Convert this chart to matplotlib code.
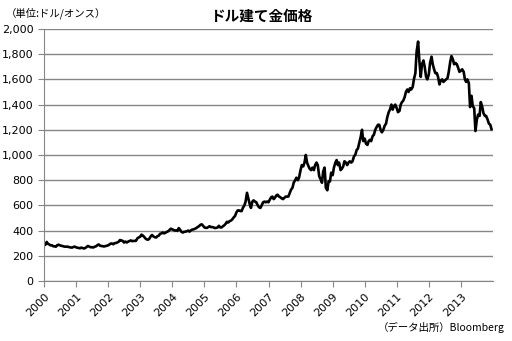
import numpy as np
import pandas as pd
import matplotlib.pyplot as plt
from matplotlib.ticker import FuncFormatter

plt.rcParams['font.family'] = ['Noto Sans CJK JP', 'DejaVu Sans']

# 金価格(ドル/オンス) 半月ごと、1年24点
prices_by_year = {
    2000: [285, 287, 310, 295, 290, 283, 283, 276, 275, 272, 285, 288,
           283, 280, 276, 274, 272, 273, 272, 268, 266, 265, 270, 273],
    2001: [267, 264, 262, 260, 265, 262, 258, 262, 270, 278, 272, 268,
           268, 266, 272, 275, 285, 290, 280, 278, 275, 274, 277, 279],
    2002: [283, 290, 298, 296, 292, 300, 302, 306, 312, 325, 322, 318,
           305, 313, 306, 312, 318, 322, 316, 318, 318, 320, 340, 345],
    2003: [352, 368, 360, 350, 338, 330, 328, 336, 355, 365, 353, 348,
           345, 355, 360, 375, 378, 385, 378, 383, 390, 395, 405, 415],
    2004: [410, 405, 400, 402, 398, 420, 405, 390, 385, 390, 392, 395,
           400, 392, 402, 408, 410, 415, 420, 428, 435, 445, 450, 440],
    2005: [425, 422, 422, 428, 435, 428, 428, 425, 420, 422, 425, 438,
           425, 425, 435, 442, 455, 470, 465, 475, 480, 490, 505, 515],
    2006: [545, 560, 560, 555, 555, 580, 600, 630, 700, 660, 610, 580,
           630, 640, 630, 625, 600, 585, 580, 600, 625, 630, 625, 630],
    2007: [625, 645, 665, 670, 650, 660, 680, 685, 670, 665, 655, 650,
           660, 670, 670, 670, 700, 725, 740, 780, 800, 820, 800, 820],
    2008: [880, 920, 910, 940, 1000, 940, 910, 890, 880, 900, 880, 920,
           940, 920, 830, 810, 780, 870, 900, 740, 720, 790, 790, 860],
    2009: [840, 900, 940, 960, 920, 940, 880, 890, 910, 950, 940, 920,
           940, 950, 940, 950, 990, 1000, 1040, 1050, 1100, 1140, 1200, 1110],
    2010: [1130, 1090, 1080, 1110, 1120, 1110, 1150, 1160, 1200, 1220, 1240, 1240,
           1200, 1180, 1200, 1230, 1250, 1300, 1340, 1360, 1400, 1360, 1390, 1400],
    2011: [1370, 1340, 1350, 1400, 1420, 1430, 1460, 1500, 1520, 1500, 1530, 1520,
           1540, 1600, 1650, 1820, 1900, 1750, 1620, 1720, 1750, 1700, 1620, 1600],
    2012: [1640, 1730, 1780, 1720, 1680, 1650, 1650, 1620, 1560, 1590, 1600, 1580,
           1590, 1600, 1610, 1660, 1740, 1785, 1760, 1720, 1730, 1720, 1690, 1660],
    2013: [1670, 1680, 1660, 1600, 1580, 1600, 1570, 1380, 1470, 1390, 1370, 1190,
           1280, 1320, 1310, 1420, 1380, 1330, 1310, 1310, 1280, 1250, 1240, 1205],
}

years = list(prices_by_year.keys())
prices = np.concatenate([prices_by_year[y] for y in years])
dates = pd.date_range("2000-01-01", periods=len(prices), freq="SMS")

fig = plt.figure(figsize=(5.12, 3.41), dpi=100)
ax = fig.add_axes([44 / 512, 1 - 281 / 341, 449 / 512, 252 / 341])

ax.plot(dates, prices, color="black", linewidth=1.9)

ax.set_ylim(0, 2000)
ax.set_yticks(range(0, 2001, 200))
ax.yaxis.set_major_formatter(FuncFormatter(lambda v, p: f"{int(v):,}"))
ax.grid(axis="y", color="#868686", linewidth=1.0)
ax.set_axisbelow(True)

ax.set_xlim(pd.Timestamp("2000-01-01"), pd.Timestamp("2014-01-01"))
year_ticks = [pd.Timestamp(f"{y}-01-01") for y in years]
ax.set_xticks(year_ticks)
ax.set_xticklabels([str(y) for y in years], rotation=45, ha="right",
                   rotation_mode="anchor")

for s in ["top", "right"]:
    ax.spines[s].set_visible(False)
for s in ["left", "bottom"]:
    ax.spines[s].set_color("#868686")
ax.tick_params(axis="both", colors="#868686", labelcolor="black",
               labelsize=8, length=4)
for lbl in ax.get_xticklabels() + ax.get_yticklabels():
    lbl.set_fontfamily("DejaVu Sans")

fig.text(0.51, 0.953, "ドル建て金価格", ha="center", va="center",
         fontsize=10.5, fontweight="bold")
fig.text(0.012, 0.962, "（単位:ドル/オンス）", ha="left", va="center", fontsize=7.5)
fig.text(0.985, 0.04, "（データ出所）Bloomberg", ha="right", va="center",
         fontsize=7.5)

fig.savefig("out.png", dpi=100)
